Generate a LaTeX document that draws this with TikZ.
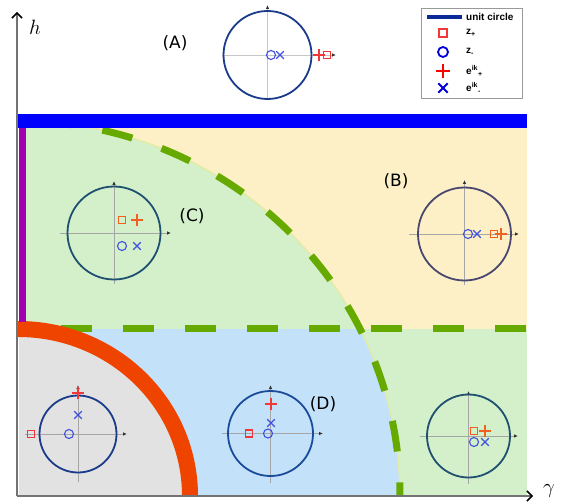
\documentclass[tikz,border=0pt]{standalone}
\usepackage{fontspec}
\setmainfont{DejaVu Sans}
\newfontfamily\legfont{Liberation Sans}
\usetikzlibrary{arrows.meta,shapes.misc}

\definecolor{cyel}{HTML}{FDEFC6}
\definecolor{cgrn}{HTML}{D3F0CB}
\definecolor{cblu}{HTML}{C3E2FA}
\definecolor{cgry}{HTML}{E2E2E2}
\definecolor{cdash}{HTML}{66AA00}
\definecolor{cbnd}{HTML}{E4EBA6}
\definecolor{corg}{HTML}{EE4400}
\definecolor{cpur}{HTML}{A000B0}
\definecolor{cbar}{HTML}{0000FF}
\definecolor{mred}{HTML}{F03838}
\definecolor{morg}{HTML}{F06020}
\definecolor{mblu}{HTML}{4050E0}
\definecolor{cA}{HTML}{1A3A8A}
\definecolor{cB}{HTML}{484870}
\definecolor{cC}{HTML}{1F5070}
\definecolor{cD}{HTML}{1A4A9A}
\definecolor{legline}{HTML}{0A2A9A}

\tikzset{
  mainaxis/.style={line width=1.4pt, draw=black!55, -{Straight Barb[length=5pt,width=10pt,line width=1.5pt,black]}},
  paxis/.style={line width=0.8pt, draw=black!35, -{Latex[length=4pt,width=3.5pt,black!80]}},
  ucirc/.style={draw, circle, inner sep=0pt, line width=1.8pt},
  sqmark/.style={draw, rectangle, minimum size=7pt, inner sep=0pt, line width=1.2pt},
  omark/.style={draw=mblu, circle, minimum size=9pt, inner sep=0pt, line width=1.1pt},
  pmark/.style={draw, cross out, rotate=45, minimum size=7.5pt, inner sep=0pt, line width=1.4pt},
  xmark/.style={draw=mblu, cross out, minimum size=6.5pt, inner sep=0pt, line width=1.1pt},
  greendash/.style={draw=cdash, line width=7pt, dash pattern=on 31pt off 31pt},
  lab/.style={font=\fontsize{17}{20}\selectfont, inner sep=0pt},
  legtext/.style={font=\legfont\bfseries\fontsize{10}{12}\selectfont, anchor=west, inner sep=0pt}
}

\begin{document}
\begin{tikzpicture}[x=1pt,y=-1pt]
\useasboundingbox (0,0) rectangle (564,502);

% regions
\fill[cyel] (19,128) rectangle (527,329);
\fill[cgrn] (19,329) rectangle (527,495);
\begin{scope}
  \clip (18,496) ellipse [x radius=382pt, y radius=375pt];
  \fill[cgrn] (19,128) rectangle (527,329);
  \fill[cblu] (19,329) rectangle (527,495);
\end{scope}
\begin{scope}
  \clip (19,128) rectangle (527,495);
  \fill[cgry] (18,496) ellipse [x radius=172pt, y radius=167pt];
\end{scope}

% boundaries
\draw[cbnd, line width=1.5pt] (18,121) arc[start angle=90, end angle=0, x radius=382pt, y radius=375pt];
\draw[greendash, dash phase=39pt] (18,121) arc[start angle=90, end angle=0, x radius=382pt, y radius=375pt];
\draw[greendash] (61,328.5) -- (527,328.5);
\draw[corg, line width=16pt] (18,329) arc[start angle=90, end angle=0, x radius=172pt, y radius=167pt];
\fill[cpur] (19,128) rectangle (26,322);
\fill[cbar] (18,114) rectangle (527,128);

% main axes
\coordinate (O) at (17,496);
\coordinate (htip) at (17,12);
\coordinate (gtip) at (533,496);
\draw[mainaxis] (O) -- (htip);
\draw[mainaxis] (O) -- (gtip);
\node (hl) at (35,27) {\fontsize{20}{24}\selectfont$h$};
\node (gl) at (549,491) {\fontsize{20}{24}\selectfont$\gamma$};

% panel A
\draw[paxis, draw=black!22] (222,55) -- (336,55);
\draw[paxis, draw=black!22] (267.5,100) -- (267.5,5);
\node[ucirc, draw=cA, minimum size=88pt] (pA) at (267.5,55) {};
\node[omark] (oA) at (271,55) {};
\node[xmark] (xA) at (280,55) {};
\node[pmark, draw=mred] (plA) at (319,55) {};
\node[sqmark, draw=mred] (sA) at (327,55) {};

% panel C
\draw[paxis] (60,233) -- (171,233);
\draw[paxis] (114,284) -- (114,181);
\node[ucirc, draw=cC, minimum size=93pt] (pC) at (114,233) {};
\node[sqmark, draw=morg] (sC) at (122,220) {};
\node[pmark, draw=morg] (plC) at (137,220) {};
\node[omark] (oC) at (122,246) {};
\node[xmark] (xC) at (137,246) {};

% panel B
\draw[paxis] (409,234) -- (519,234);
\draw[paxis] (464.5,285) -- (464.5,180);
\node[ucirc, draw=cB, minimum size=93pt] (pB) at (464.5,234) {};
\node[omark] (oB) at (468,234) {};
\node[xmark] (xB) at (477,234) {};
\node[sqmark, draw=morg] (sB) at (494,234) {};
\node[pmark, draw=morg] (plB) at (501,234) {};

% panel bottom-left
\draw[paxis] (25,434) -- (127,434);
\draw[paxis] (78,482) -- (78,385);
\node[ucirc, draw=cA, minimum size=77pt] (pL) at (78,434) {};
\node[pmark, draw=mred] (plL) at (78,393) {};
\node[xmark] (xL) at (78,415) {};
\node[omark] (oL) at (69,434) {};
\node[sqmark, draw=mred] (sL) at (31,434) {};

% panel D
\draw[paxis] (222,433.5) -- (323,433.5);
\draw[paxis] (270.5,483) -- (270.5,385);
\node[ucirc, draw=cD, minimum size=85pt] (pD) at (270.5,433.5) {};
\node[pmark, draw=mred] (plD) at (271,404) {};
\node[xmark] (xD) at (271,423) {};
\node[omark] (oD) at (268,433.5) {};
\node[sqmark, draw=mred] (sD) at (249,433.5) {};

% panel bottom-right
\draw[paxis] (420,436) -- (518,436);
\draw[paxis] (468.5,484) -- (468.5,391);
\node[ucirc, draw=cC, minimum size=83pt] (pR) at (468.5,436) {};
\node[sqmark, draw=morg] (sR) at (474,431) {};
\node[pmark, draw=morg] (plR) at (485,431) {};
\node[omark] (oR) at (474,442) {};
\node[xmark] (xR) at (485,442) {};

% labels
\node[lab] (lA) at (175,43) {(A)};
\node[lab] (lB) at (396,181) {(B)};
\node[lab] (lC) at (192,216) {(C)};
\node[lab] (lD) at (323,404) {(D)};

% legend
\node[draw=black!40, line width=1pt, minimum width=101pt, minimum height=90pt, inner sep=0pt] (leg) at (471.5,54) {};
\coordinate (l1a) at (427,17);
\coordinate (l1b) at (462,17);
\draw[legline, line width=4pt] (l1a) -- (l1b);
\node[legtext] (t1) at (466,17) {unit circle};
\node[sqmark, draw=mred, line width=2pt, minimum size=7.5pt] (m2) at (443,33) {};
\node[legtext] (t2) at (466,33) {z\textsubscript{+}};
\node[omark, draw=blue!85!black, line width=1.8pt, minimum size=10pt] (m3) at (443,52) {};
\node[legtext] (t3) at (466,52) {z\textsubscript{-}};
\node[pmark, draw=red, line width=2.4pt, minimum size=8pt] (m4) at (443,71) {};
\node[legtext] (t4) at (466,71) {e\textsuperscript{ik}\textsubscript{+}};
\node[xmark, draw=blue!85!black, line width=1.8pt, minimum size=7.5pt] (m5) at (443,88) {};
\node[legtext] (t5) at (466,88) {e\textsuperscript{ik}\textsubscript{-}};
\end{tikzpicture}
\end{document}
